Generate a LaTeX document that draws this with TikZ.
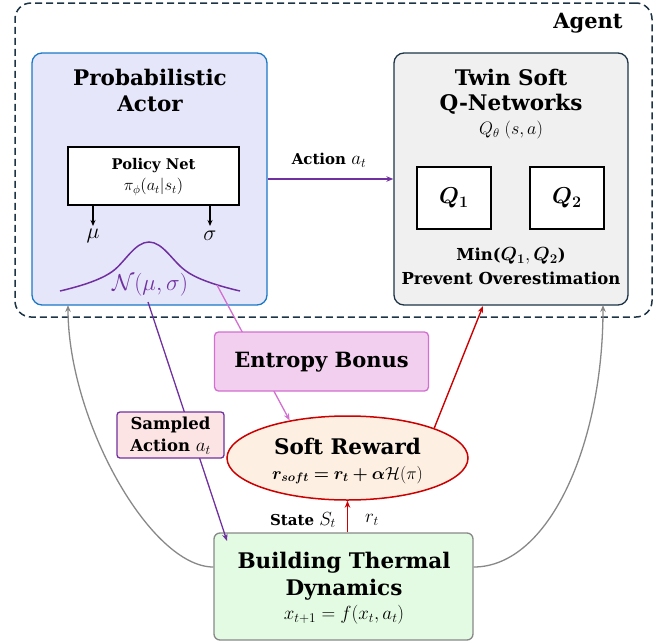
\RequirePackage{fix-cm}
\documentclass[tikz,border=0pt]{standalone}
\usepackage{amsmath}
\usepackage{bm}
\usepackage{fontspec}
\setmainfont{DejaVu Serif}
\usetikzlibrary{arrows.meta,shapes.geometric}
\definecolor{navy}{HTML}{1C3446}
\definecolor{actfill}{HTML}{E6E6FA}
\definecolor{actline}{HTML}{1A78C8}
\definecolor{qfill}{HTML}{F0F0F0}
\definecolor{entfill}{HTML}{F2CFEE}
\definecolor{entline}{HTML}{D36FD0}
\definecolor{rewfill}{HTML}{FDF0E2}
\definecolor{rewline}{HTML}{CC0000}
\definecolor{bldfill}{HTML}{E2FBE2}
\definecolor{bldline}{HTML}{888888}
\definecolor{samfill}{HTML}{FDE4E4}
\definecolor{purp}{HTML}{7030A0}
\newcommand{\mymath}[1]{{\fontsize{19}{21}\selectfont$#1$}}
\begin{document}
\begin{tikzpicture}[x=1pt,y=-1pt,
  rbox/.style={draw, rounded corners=10pt, line width=1.3pt, inner sep=0pt},
  sbox/.style={draw, line width=1.2pt, inner sep=0pt, fill=white},
  tip/.style={-{Stealth[length=7pt,width=5.5pt]}},
  ttl/.style={font=\fontsize{21.5}{25}\selectfont\bfseries, inner sep=0pt},
  mid/.style={font=\fontsize{16.5}{19}\selectfont\bfseries, inner sep=0pt},
  lbl/.style={font=\fontsize{15}{18}\selectfont\bfseries, inner sep=0pt},
  sml/.style={font=\fontsize{18}{21}\selectfont, inner sep=0pt}]
\useasboundingbox (0,0) rectangle (670,643);
% agent
\node[draw=navy, line width=1.5pt, dash pattern=on 7pt off 4pt, rounded corners=16pt,
  minimum width=637pt, minimum height=314pt] (agent) at (333.5,160) {};
\node[ttl, font=\fontsize{21}{25}\selectfont\bfseries] (agentlbl) at (588,23) {Agent};
% actor
\node[rbox, draw=actline, fill=actfill, minimum width=235pt, minimum height=252pt] (actor) at (149.5,179) {};
\node[ttl] (actt1) at (150,77) {Probabilistic};
\node[ttl] (actt2) at (150,104) {Actor};
\node[sbox, minimum width=171pt, minimum height=58pt] (policy) at (153.5,176) {};
\node[lbl, font=\fontsize{14.7}{17}\selectfont\bfseries] (poltxt) at (153.5,166) {Policy Net};
\node[sml, font=\fontsize{16.5}{19}\selectfont] (polmath) at (153.5,187) {$\pi_\phi(a_t|s_t)$};
\node[inner sep=0pt, font=\fontsize{22}{25}\selectfont] (mu) at (93,236) {$\mu$};
\node[inner sep=0pt, font=\fontsize{22}{25}\selectfont] (sigma) at (210,236) {$\sigma$};
\draw[line width=1.2pt, -{Stealth[length=6pt,width=5pt]}] (policy.south -| mu) -- (93,226);
\draw[line width=1.2pt, -{Stealth[length=6pt,width=5pt]}] (policy.south -| sigma) -- (210,226);
\draw[purp, line width=1.5pt] (60,291) .. controls (90,284) and (105,277) .. (113,271)
  .. controls (125,262) and (135,242) .. (149,242)
  .. controls (163,242) and (173,262) .. (186,271)
  .. controls (194,277) and (210,284) .. (240,291);
\node[inner sep=0pt, text=purp, font=\fontsize{23}{26}\selectfont] (normal) at (150,285) {$\mathcal{N}(\mu,\sigma)$};
\coordinate (curvept) at (217,285);
\coordinate (samstart) at (148,302);
% Q networks
\node[rbox, draw=navy, fill=qfill, minimum width=234pt, minimum height=252pt] (qbox) at (511,179) {};
\node[ttl] (qt1) at (511,77) {Twin Soft};
\node[ttl] (qt2) at (511,104) {Q-Networks};
\node[sml] (qmath) at (511,130) {$Q_\theta\;(s,a)$};
\node[sbox, minimum width=74pt, minimum height=62pt, font=\fontsize{23}{26}\selectfont] (q1) at (454,198) {$\bm{Q_1}$};
\node[sbox, minimum width=74pt, minimum height=62pt, font=\fontsize{23}{26}\selectfont] (q2) at (567,198) {$\bm{Q_2}$};
\node[mid] (qmin) at (511,256) {Min(\mymath{\bm{Q_1},\bm{Q_2}})};
\node[mid] (qprev) at (511,278) {Prevent Overestimation};
% action arrow
\draw[purp, line width=1.3pt, tip] (actor) -- (qbox);
\node[lbl] (actlbl) at (329,160) {Action \mymath{a_t}};
% building
\node[rbox, rounded corners=6pt, draw=bldline, fill=bldfill, minimum width=259pt, minimum height=107pt] (build) at (343.5,586.5) {};
\node[ttl] (bt1) at (344,563) {Building Thermal};
\node[ttl] (bt2) at (344,590) {Dynamics};
\node[sml, font=\fontsize{19}{21}\selectfont] (bmath) at (344,615) {$x_{t+1}=f(x_t,a_t)$};
% reward ellipse
\node[ellipse, draw=rewline, fill=rewfill, line width=1.5pt, minimum width=241pt, minimum height=84pt, inner sep=0pt] (reward) at (347.5,458) {};
\node[ttl] (rt1) at (347.5,446) {Soft Reward};
\node[inner sep=0pt, font=\fontsize{17.5}{20}\selectfont] (rmath) at (347.5,475) {$\bm{r_{soft}=r_t+\alpha}\mathcal{H}(\pi)$};
% pink entropy line (behind entropy box)
\draw[entline, line width=1.3pt, tip] (curvept) -- (reward.147);
% entropy box
\node[rbox, rounded corners=4pt, draw=entline, fill=entfill, minimum width=214pt, minimum height=59pt] (entropy) at (321.5,361.5) {};
\node[ttl, font=\fontsize{21}{25}\selectfont\bfseries] (enttxt) at (321.5,362) {Entropy Bonus};
% sampled action
\coordinate (samend) at (227,541);
\draw[purp, line width=1.3pt, tip] (samstart) -- (samend);
\node[draw=purp, fill=samfill, line width=1.3pt, rounded corners=3pt, minimum width=107pt, minimum height=46pt, inner sep=0pt] (sambox) at (170.5,435) {};
\node[mid] (samt1) at (170.5,425) {Sampled};
\node[mid] (samt2) at (170.5,447) {Action \mymath{a_t}};
% reward arrows
\draw[rewline, line width=1.4pt, tip] (reward.south |- build.north) -- (reward.south);
\node[lbl] (statelbl) at (303,520) {State \mymath{S_t}};
\node[sml, font=\fontsize{19}{21}\selectfont] (rtlbl) at (372,520) {$r_t$};
\coordinate (qin) at (483,306);
\draw[rewline, line width=1.4pt, tip] (reward.19) -- (qin);
% gray feedback
\coordinate (actin) at (68,305);
\coordinate (qin2) at (603,305);
\draw[bldline, line width=1.3pt, tip] ([yshift=19.5pt]build.west) .. controls +(-63,0) and +(0,115) .. (actin);
\draw[bldline, line width=1.3pt, tip] ([yshift=19.5pt]build.east) .. controls +(75,0) and +(0,140) .. (qin2);
\end{tikzpicture}
\end{document}
